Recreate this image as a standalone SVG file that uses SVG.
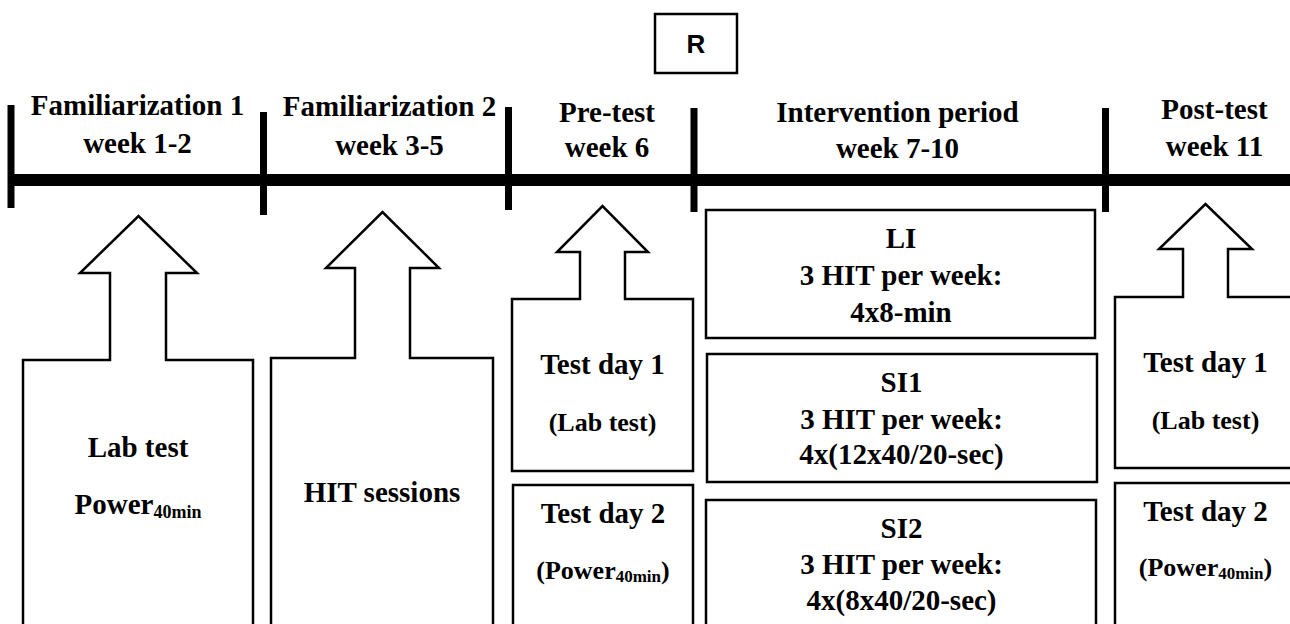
<svg xmlns="http://www.w3.org/2000/svg" width="1290" height="624" viewBox="0 0 1290 624">
  <style>
    .t { font-family: "Liberation Serif", "Times New Roman", serif; font-weight: bold; font-size: 29px; fill: #000; text-anchor: middle; }
    .p { font-size: 26px; }
    .sub { font-size: 18px; }
    .subp { font-size: 17px; }
    .shape { fill: #fff; stroke: #000; stroke-width: 2.5; stroke-linejoin: miter; }
    .tick { stroke: #000; stroke-width: 7; }
    .bar { stroke: #000; stroke-width: 12; }
  </style>
  <rect width="1290" height="624" fill="#fff"/>

  <!-- randomisation box -->
  <g id="randomisation">
    <rect class="shape" x="655" y="14" width="82" height="59"/>
    <text x="696" y="53" font-family="'Liberation Sans', Arial, sans-serif" font-weight="bold" font-size="26" text-anchor="middle">R</text>
  </g>

  <!-- timeline axis with period separators -->
  <g id="timeline">
    <line class="bar" x1="8" y1="180" x2="1290" y2="180"/>
    <line class="tick" x1="11" y1="105" x2="11" y2="208"/>
    <line class="tick" x1="263.5" y1="112" x2="263.5" y2="215"/>
    <line class="tick" x1="508.5" y1="107" x2="508.5" y2="210"/>
    <line class="tick" x1="694" y1="108" x2="694" y2="212"/>
    <line class="tick" x1="1105.5" y1="108" x2="1105.5" y2="212"/>
  </g>

  <!-- period headings -->
  <g id="heading-fam1">
    <text class="t" x="137.5" y="115">Familiarization 1</text>
    <text class="t" x="137.5" y="153">week 1-2</text>
  </g>
  <g id="heading-fam2">
    <text class="t" x="389.5" y="116">Familiarization 2</text>
    <text class="t" x="389.5" y="155">week 3-5</text>
  </g>
  <g id="heading-pre">
    <text class="t" x="607" y="122">Pre-test</text>
    <text class="t" x="607" y="157">week 6</text>
  </g>
  <g id="heading-intervention">
    <text class="t" x="897.5" y="122">Intervention period</text>
    <text class="t" x="897.5" y="158">week 7-10</text>
  </g>
  <g id="heading-post">
    <text class="t" x="1214.5" y="119">Post-test</text>
    <text class="t" x="1214.5" y="156">week 11</text>
  </g>

  <!-- familiarization 1: arrow box -->
  <g id="fam1-lab">
    <polygon class="shape" points="23,640 23,360 110,360 110,273 80,273 138.5,216 197,273 166,273 166,360 253,360 253,640"/>
    <text class="t" x="138" y="457">Lab test</text>
    <text class="t" x="138" y="514">Power<tspan class="sub" dy="4">40min</tspan></text>
  </g>

  <!-- familiarization 2: arrow box -->
  <g id="fam2-hit">
    <polygon class="shape" points="271,640 271,358 355,358 355,268 326,268 382.5,212 439,268 410,268 410,358 493,358 493,640"/>
    <text class="t" x="382" y="502">HIT sessions</text>
  </g>

  <!-- pre-test -->
  <g id="pre-day1">
    <polygon class="shape" points="512,471 512,299 580,299 580,252 557,252 602.5,206 648,252 625,252 625,299 693,299 693,471"/>
    <text class="t" x="602.5" y="374">Test day 1</text>
    <text class="t p" x="602.5" y="431">(Lab test)</text>
  </g>
  <g id="pre-day2">
    <polyline class="shape" points="513,640 513,485 693,485 693,640"/>
    <text class="t" x="603" y="523">Test day 2</text>
    <text class="t p" x="603" y="579">(Power<tspan class="subp" dy="3">40min</tspan><tspan dy="-3">)</tspan></text>
  </g>

  <!-- intervention groups -->
  <g id="group-li">
    <rect class="shape" x="706" y="210" width="389" height="128"/>
    <text class="t" x="901" y="248">LI</text>
    <text class="t" x="901" y="285">3 HIT per week:</text>
    <text class="t" x="901" y="322">4x8-min</text>
  </g>
  <g id="group-si1">
    <rect class="shape" x="707" y="354" width="390" height="128"/>
    <text class="t" x="901.5" y="392">SI1</text>
    <text class="t" x="901.5" y="429">3 HIT per week:</text>
    <text class="t" x="901.5" y="464">4x(12x40/20-sec)</text>
  </g>
  <g id="group-si2">
    <polyline class="shape" points="706,640 706,500 1096,500 1096,640"/>
    <text class="t" x="901.5" y="538">SI2</text>
    <text class="t" x="901.5" y="574">3 HIT per week:</text>
    <text class="t" x="901.5" y="610">4x(8x40/20-sec)</text>
  </g>

  <!-- post-test -->
  <g id="post-day1">
    <polygon class="shape" points="1300,468 1115,468 1115,297 1183,297 1183,249 1159,249 1205.5,204 1252,249 1228,249 1228,297 1300,297"/>
    <text class="t" x="1205.5" y="372">Test day 1</text>
    <text class="t p" x="1205.5" y="429">(Lab test)</text>
  </g>
  <g id="post-day2">
    <polyline class="shape" points="1115,640 1115,483 1300,483"/>
    <text class="t" x="1205.5" y="521">Test day 2</text>
    <text class="t p" x="1205.5" y="576">(Power<tspan class="subp" dy="3">40min</tspan><tspan dy="-3">)</tspan></text>
  </g>
</svg>
